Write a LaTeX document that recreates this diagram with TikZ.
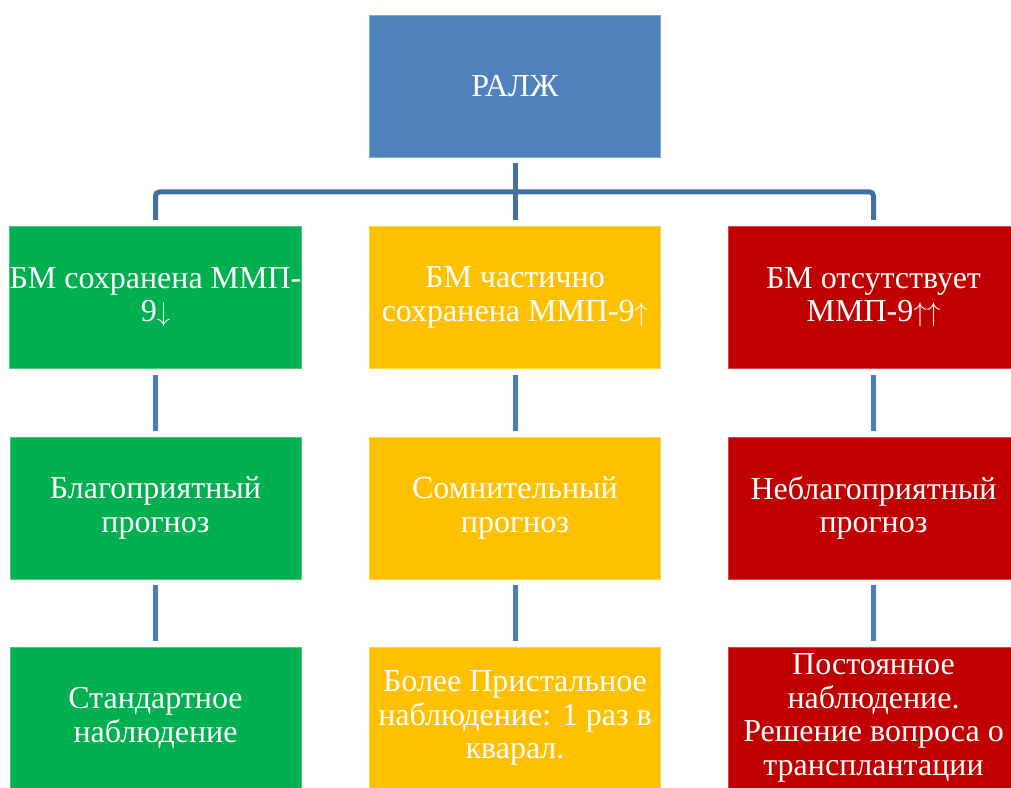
\RequirePackage{fix-cm}
\documentclass[tikz,border=0pt]{standalone}
\usepackage{fontspec}
\setmainfont{Liberation Serif}
\usepackage{tikz}
\usetikzlibrary{positioning,calc}

\definecolor{ralzhblue}{HTML}{4F81BD}
\definecolor{okgreen}{HTML}{00B050}
\definecolor{midyellow}{HTML}{FFC000}
\definecolor{badred}{HTML}{C00000}
\definecolor{elbowblue}{HTML}{41719C}
\definecolor{linkblue}{HTML}{4A7EBB}

\newcommand{\arrsize}{\fontsize{27}{33.5}\selectfont}

\tikzset{
    card/.style={fill=#1, draw=#1!70!white, line width=0.8pt, minimum width=291pt,
        minimum height=142pt, inner sep=0pt, align=center, text=white,
        font=\rmfamily\fontsize{32}{33.5}\selectfont},
    elbow/.style={elbowblue, line width=5pt, rounded corners=4pt},
    link/.style={linkblue, line width=5pt, shorten <=6pt, shorten >=6pt}
}

\begin{document}
\begin{tikzpicture}[x=1pt, y=-1pt]
    \clip (0,0) rectangle (1011,787);
    \fill[white] (0,0) rectangle (1011,787);

    % Top box
    \node[card=ralzhblue] (ralzh) at (515,86.5) {РАЛЖ};

    % First row
    \node[card=okgreen] (g1) at (155.5,297.3) {БМ сохранена ММП-\\9{\arrsize$\downarrow$}};
    \node[card=midyellow] (y1) at (515,297.3) {БМ частично\\сохранена ММП-9{\arrsize$\uparrow$}};
    \node[card=badred] (r1) at (873.5,297.3) {БМ отсутствует\\ММП-9{\arrsize$\uparrow\uparrow$}};

    % Second row
    \node[card=okgreen] (g2) at (155.5,508) {Благоприятный\\прогноз};
    \node[card=midyellow] (y2) at (515,508) {Сомнительный\\прогноз};
    \node[card=badred] (r2) at (873.5,508) {Неблагоприятный\\прогноз};

    % Third row
    \node[card=okgreen] (g3) at (155.5,718) {Стандартное\\наблюдение};
    \node[card=midyellow] (y3) at (515,718) {Более Пристальное\\наблюдение: 1 раз в\\кварал.};
    \node[card=badred] (r3) at (873.5,718) {Постоянное\\наблюдение.\\Решение вопроса о\\трансплантации};

    % Tree connectors
    \coordinate (fork) at ($(ralzh.south)!0.5!(y1.north)$);
    \draw[elbow, shorten <=6pt, shorten >=6pt] (g1.north) |- (fork) -| (r1.north);
    \draw[elbow, shorten <=5pt, shorten >=6pt] (ralzh.south) -- (y1.north);

    % Row links
    \draw[link] (g1) -- (g2);
    \draw[link] (y1) -- (y2);
    \draw[link] (r1) -- (r2);
    \draw[link] (g2) -- (g3);
    \draw[link] (y2) -- (y3);
    \draw[link] (r2) -- (r3);
\end{tikzpicture}
\end{document}
